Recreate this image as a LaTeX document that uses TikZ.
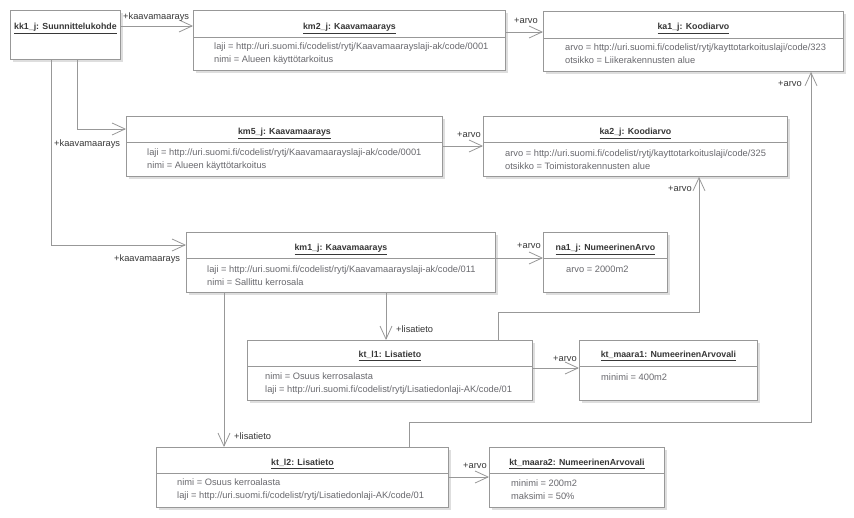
\documentclass[tikz,border=0pt]{standalone}
\usepackage{fontspec}
\setmainfont{Liberation Sans}
\usetikzlibrary{
    positioning,
    arrows.meta,
    shadows
}
\definecolor{umlLine}{RGB}{152, 152, 152}
\definecolor{umlText}{RGB}{55, 55, 55}
\definecolor{umlAttr}{RGB}{105, 105, 110}
\definecolor{umlShadow}{RGB}{222, 222, 222}

\tikzset{
    objbox/.style={draw=umlLine, fill=white, line width=0.9pt, anchor=north west,
        inner sep=0pt, minimum height=60pt,
        drop shadow={shadow xshift=3pt, shadow yshift=-3pt, fill=umlShadow, opacity=1}},
    objtitle/.style={font=\fontsize{8.8}{10}\selectfont\bfseries, text=umlText, anchor=base, inner sep=0pt},
    objattr/.style={font=\fontsize{9.3}{13}\selectfont, text=umlAttr, anchor=west, align=left, inner sep=0pt},
    divline/.style={draw=umlLine, line width=0.9pt},
    conn/.style={draw=umlLine, line width=0.8pt,
        -{Straight Barb[length=13pt, width=12pt, line width=0.8pt]}},
    lbl/.style={font=\fontsize{9.3}{11}\selectfont, text=umlText, anchor=west, inner sep=0pt}
}

\begin{document}
\begin{tikzpicture}[x=1pt, y=-1pt]
        \fill[white] (0,0) rectangle (854,518);

        % Objects
        \node[objbox, minimum width=110pt, minimum height=49pt] (kk1) at (10,10) {};
        \node[objtitle] (kk1t) at ([yshift=-19.5pt]kk1.north) {\underline{kk1\_j: Suunnittelukohde}};

        \node[objbox, minimum width=312pt] (km2) at (193,10) {};
        \node[objtitle] (km2t) at ([yshift=-19.5pt]km2.north) {\underline{km2\_j: Kaavamaarays}};
        \draw[divline] ([yshift=-27pt]km2.north west) -- ([yshift=-27pt]km2.north east);
        \node[objattr] (km2a) at ([xshift=21pt, yshift=-44pt]km2.north west)
            {laji = http://uri.suomi.fi/codelist/rytj/Kaavamaarayslaji-ak/code/0001\\nimi = Alueen käyttötarkoitus};

        \node[objbox, minimum width=300pt] (ka1) at (543,11) {};
        \node[objtitle] (ka1t) at ([yshift=-19pt]ka1.north) {\underline{ka1\_j: Koodiarvo}};
        \draw[divline] ([yshift=-27pt]ka1.north west) -- ([yshift=-27pt]ka1.north east);
        \node[objattr] (ka1a) at ([xshift=22pt, yshift=-43pt]ka1.north west)
            {arvo = http://uri.suomi.fi/codelist/rytj/kayttotarkoituslaji/code/323\\otsikko = Liikerakennusten alue};

        \node[objbox, minimum width=316pt] (km5) at (126,116) {};
        \node[objtitle] (km5t) at ([yshift=-18.5pt]km5.north) {\underline{km5\_j: Kaavamaarays}};
        \draw[divline] ([yshift=-26pt]km5.north west) -- ([yshift=-26pt]km5.north east);
        \node[objattr] (km5a) at ([xshift=21pt, yshift=-43.5pt]km5.north west)
            {laji = http://uri.suomi.fi/codelist/rytj/Kaavamaarayslaji-ak/code/0001\\nimi = Alueen käyttötarkoitus};

        \node[objbox, minimum width=304pt] (ka2) at (483,116) {};
        \node[objtitle] (ka2t) at ([yshift=-18.5pt]ka2.north) {\underline{ka2\_j: Koodiarvo}};
        \draw[divline] ([yshift=-26pt]ka2.north west) -- ([yshift=-26pt]ka2.north east);
        \node[objattr] (ka2a) at ([xshift=22pt, yshift=-43.5pt]ka2.north west)
            {arvo = http://uri.suomi.fi/codelist/rytj/kayttotarkoituslaji/code/325\\otsikko = Toimistorakennusten alue};

        \node[objbox, minimum width=309pt] (km1) at (186,232) {};
        \node[objtitle] (km1t) at ([yshift=-18.5pt]km1.north) {\underline{km1\_j: Kaavamaarays}};
        \draw[divline] ([yshift=-26pt]km1.north west) -- ([yshift=-26pt]km1.north east);
        \node[objattr] (km1a) at ([xshift=21pt, yshift=-43.5pt]km1.north west)
            {laji = http://uri.suomi.fi/codelist/rytj/Kaavamaarayslaji-ak/code/011\\nimi = Sallittu kerrosala};

        \node[objbox, minimum width=124pt] (na1) at (543,232) {};
        \node[objtitle] (na1t) at ([yshift=-18.5pt]na1.north) {\underline{na1\_j: NumeerinenArvo}};
        \draw[divline] ([yshift=-26pt]na1.north west) -- ([yshift=-26pt]na1.north east);
        \node[objattr] (na1a) at ([xshift=23pt, yshift=-37pt]na1.north west) {arvo = 2000m2};

        \node[objbox, minimum width=285pt] (ktl1) at (247,340) {};
        \node[objtitle] (ktl1t) at ([yshift=-17.5pt]ktl1.north) {\underline{kt\_l1: Lisatieto}};
        \draw[divline] ([yshift=-26pt]ktl1.north west) -- ([yshift=-26pt]ktl1.north east);
        \node[objattr] (ktl1a) at ([xshift=18pt, yshift=-43.5pt]ktl1.north west)
            {nimi = Osuus kerrosalasta\\laji = http://uri.suomi.fi/codelist/rytj/Lisatiedonlaji-AK/code/01};

        \node[objbox, minimum width=178pt] (ktm1) at (579,340) {};
        \node[objtitle] (ktm1t) at ([yshift=-17.5pt]ktm1.north) {\underline{kt\_maara1: NumeerinenArvovali}};
        \draw[divline] ([yshift=-26pt]ktm1.north west) -- ([yshift=-26pt]ktm1.north east);
        \node[objattr] (ktm1a) at ([xshift=22pt, yshift=-37pt]ktm1.north west) {minimi = 400m2};

        \node[objbox, minimum width=292pt] (ktl2) at (156,447) {};
        \node[objtitle] (ktl2t) at ([yshift=-18.5pt]ktl2.north) {\underline{kt\_l2: Lisatieto}};
        \draw[divline] ([yshift=-26pt]ktl2.north west) -- ([yshift=-26pt]ktl2.north east);
        \node[objattr] (ktl2a) at ([xshift=21pt, yshift=-43pt]ktl2.north west)
            {nimi = Osuus kerroalasta\\laji = http://uri.suomi.fi/codelist/rytj/Lisatiedonlaji-AK/code/01};

        \node[objbox, minimum width=175pt] (ktm2) at (489,447) {};
        \node[objtitle] (ktm2t) at ([yshift=-18.5pt]ktm2.north) {\underline{kt\_maara2: NumeerinenArvovali}};
        \draw[divline] ([yshift=-26pt]ktm2.north west) -- ([yshift=-26pt]ktm2.north east);
        \node[objattr] (ktm2a) at ([xshift=22pt, yshift=-43pt]ktm2.north west)
            {minimi = 200m2\\maksimi = 50\%};

        % Links from kk1
        \draw[conn] ([yshift=-16pt]kk1.north east) -- ([yshift=-16pt]km2.north west);
        \draw[conn] ([xshift=12pt]kk1.south) |- ([yshift=-13pt]km5.north west);
        \draw[conn] ([xshift=-14pt]kk1.south) |- ([yshift=-13pt]km1.north west);

        % Links to code values
        \coordinate (km2out) at ([yshift=-22pt]km2.north east);
        \draw[conn] (km2out) -- (km2out -| ka1.west);
        \coordinate (km5out) at ([yshift=-30pt]km5.north east);
        \draw[conn] (km5out) -- (km5out -| ka2.west);
        \draw[conn] ([yshift=-26pt]km1.north east) -- ([yshift=-26pt]na1.north west);

        % Additional info
        \coordinate (km1l1) at ([xshift=200pt]km1.south west);
        \draw[conn] (km1l1) -- (km1l1 |- ktl1.north);
        \coordinate (km1l2) at ([xshift=38pt]km1.south west);
        \draw[conn] (km1l2) -- (km1l2 |- ktl2.north);
        \draw[conn] ([xshift=251pt]ktl1.north west) -- ++(0,-28) -| ([xshift=216pt]ka2.south west);
        \draw[conn] ([xshift=253pt]ktl2.north west) -- ++(0,-25) -| ([xshift=268pt]ka1.south west);
        \draw[conn] ([yshift=-28pt]ktl1.north east) -- ([yshift=-28pt]ktm1.north west);
        \draw[conn] ([yshift=-30pt]ktl2.north east) -- ([yshift=-30pt]ktm2.north west);

        % Role labels
        \node[lbl] (r1) at (123,17) {+kaavamaarays};
        \node[lbl] (r2) at (514,21) {+arvo};
        \node[lbl] (r3) at (54,144) {+kaavamaarays};
        \node[lbl] (r4) at (457,135) {+arvo};
        \node[lbl] (r5) at (114,259) {+kaavamaarays};
        \node[lbl] (r6) at (517,246) {+arvo};
        \node[lbl] (r7) at (396,329) {+lisatieto};
        \node[lbl] (r8) at (668,189) {+arvo};
        \node[lbl] (r9) at (778,84) {+arvo};
        \node[lbl] (r10) at (553,359) {+arvo};
        \node[lbl] (r11) at (234,436) {+lisatieto};
        \node[lbl] (r12) at (463,466) {+arvo};
    \end{tikzpicture}
\end{document}
